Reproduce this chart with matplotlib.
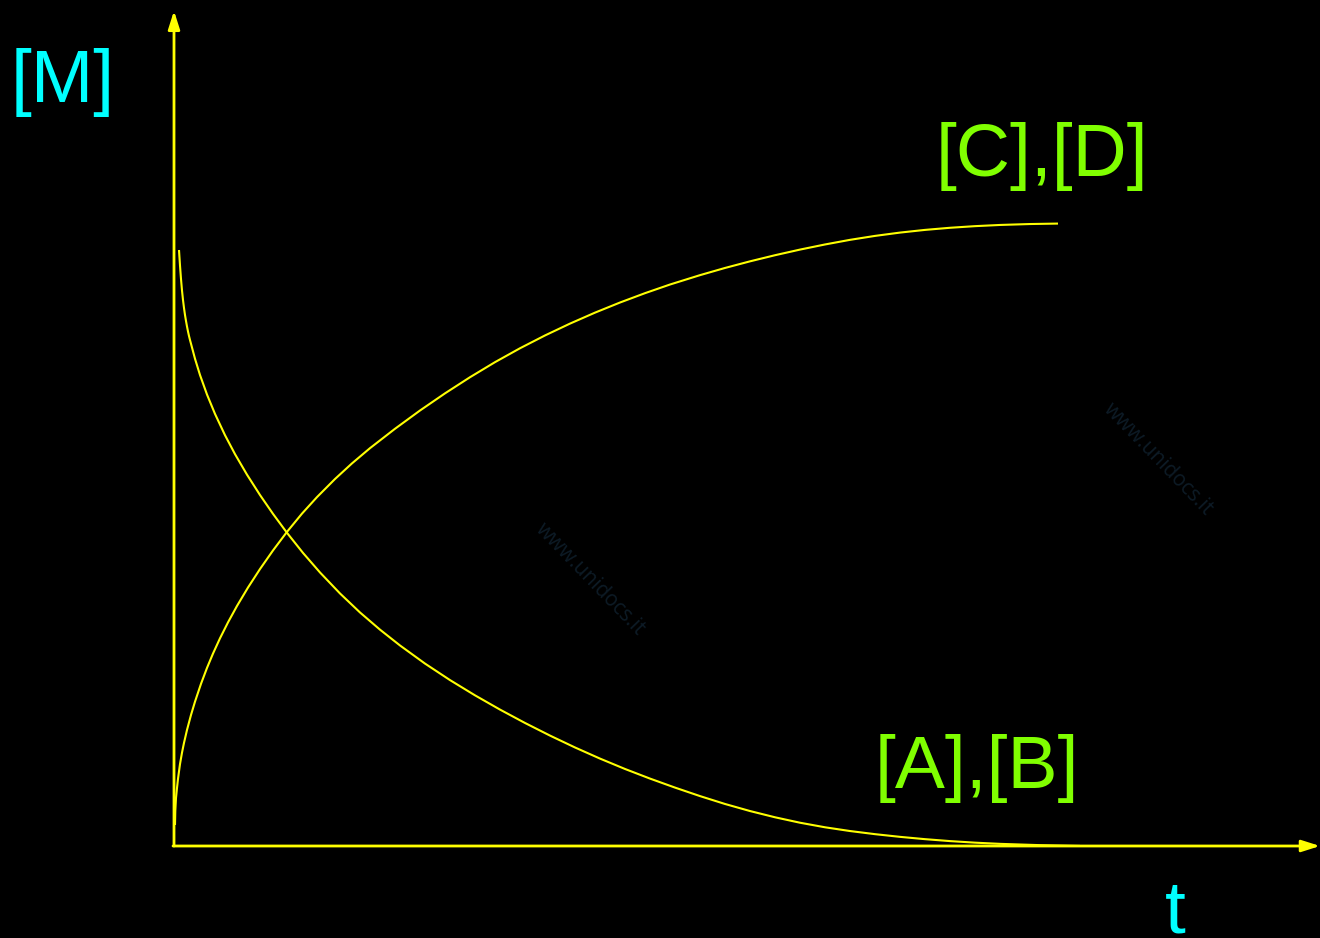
import numpy as np
import matplotlib
matplotlib.use("Agg")
import matplotlib.pyplot as plt

# reactants [A],[B]: time vs concentration
t_reag = [0.04, 0.05, 0.06, 0.07, 0.08, 0.09, 0.10, 0.11, 0.12, 0.13, 0.14, 0.15,
          0.20, 0.25, 0.32, 0.40, 0.50, 0.60, 0.72, 0.85, 0.98, 1.12, 1.28, 1.45,
          1.65, 1.85, 2.05, 2.25, 2.50, 2.75, 3.00, 3.25, 3.50, 3.75, 4.00, 4.25,
          4.50, 4.75, 5.00, 5.25, 5.50, 5.75, 6.00, 6.25, 6.50, 6.75, 7.00, 7.25,
          7.50, 7.75, 8.00, 8.25, 8.65, 9.05]
c_reag = [0.99333, 0.96750, 0.94500, 0.92583, 0.91000, 0.89667, 0.88500, 0.87500,
          0.86583, 0.85750, 0.85000, 0.84333, 0.81208, 0.78500, 0.75245, 0.72018,
          0.68468, 0.65310, 0.61890, 0.58498, 0.55357, 0.52195, 0.48848, 0.45590,
          0.42090, 0.38923, 0.36057, 0.33423, 0.30402, 0.27652, 0.25110, 0.22735,
          0.20505, 0.18402, 0.16422, 0.14568, 0.12838, 0.11235, 0.09735, 0.08318,
          0.07005, 0.05828, 0.04787, 0.03880, 0.03120, 0.02495, 0.01973, 0.01525,
          0.01140, 0.00817, 0.00557, 0.00358, 0.00142, 0.00008]

# products [C],[D]
t_prod = [0.00, 0.003, 0.01, 0.02, 0.03, 0.05, 0.07, 0.09, 0.12, 0.16, 0.20, 0.26,
          0.32, 0.38, 0.45, 0.53, 0.62, 0.73, 0.85, 0.98, 1.12, 1.27, 1.42, 1.60,
          1.77, 1.95, 2.20, 2.45, 2.70, 2.95, 3.20, 3.45, 3.70, 3.95, 4.20, 4.45,
          4.70, 4.95, 5.25, 5.50, 5.75, 6.00, 6.25, 6.50, 6.75, 7.00, 7.25, 7.50,
          7.75, 8.00, 8.25, 8.55, 8.83]
c_prod = [0.03500, 0.05833, 0.08000, 0.09667, 0.11208, 0.13658, 0.15558, 0.17192,
          0.19342, 0.21842, 0.24058, 0.27033, 0.29683, 0.32073, 0.34617, 0.37270,
          0.40008, 0.43080, 0.46160, 0.49258, 0.52362, 0.55400, 0.58150, 0.61167,
          0.63772, 0.66307, 0.69537, 0.72583, 0.75440, 0.78130, 0.80640, 0.82956,
          0.85091, 0.87066, 0.88893, 0.90580, 0.92138, 0.93580, 0.95141, 0.96340,
          0.97443, 0.98463, 0.99401, 1.00255, 1.01026, 1.01683, 1.02235, 1.02683,
          1.03037, 1.03308, 1.03507, 1.03662, 1.03737]

# axes extents (arrow tips)
t_max = 11.45
c_max = 1.387

yellow = "#ffff00"
green = "#80ff00"
cyan = "#00ffff"
plt.rcParams['font.family'] = ['Liberation Sans', 'DejaVu Sans']

fig = plt.figure(figsize=(13.2, 9.38), dpi=100, facecolor="black")
ax = fig.add_axes([0, 0, 1, 1])
ax.set_facecolor("black")
ax.set_xlim(-1.75, 11.45)
ax.set_ylim(-92 / 600, 846 / 600)
ax.axis("off")

# faint watermark
for wx, wy in [(0.447, 0.382), (0.877, 0.510)]:
    ax.text(wx, wy, "www.unidocs.it", transform=fig.transFigure, rotation=-46,
            fontsize=15, color="#0d1b26", ha="center", va="center",
            family=["Open Sans", "DejaVu Sans"])

# axes with arrows
arrow = dict(arrowstyle="-|>,head_length=1.1,head_width=0.35", color=yellow,
             lw=2, shrinkA=0, shrinkB=0)
ax.annotate("", xy=(-0.01, c_max + 0.005), xytext=(-0.01, 0), arrowprops=arrow)
ax.annotate("", xy=(t_max, 0), xytext=(-0.02, 0), arrowprops=arrow)

# curves
ax.plot(t_reag, c_reag, color=yellow, lw=1.5, solid_capstyle="butt", solid_joinstyle="round")
ax.plot(t_prod, c_prod, color=yellow, lw=1.5, solid_capstyle="butt", solid_joinstyle="round")

# labels
ax.text(-1.12, 1.272, "[M]", color=cyan, fontsize=54, ha="center", va="center")
ax.text(10.0, -0.112, "t", color=cyan, fontsize=54, ha="center", va="center")
ax.text(8.67, 1.149, "[C],[D]", color=green, fontsize=54, ha="center", va="center")
ax.text(8.02, 0.129, "[A],[B]", color=green, fontsize=54, ha="center", va="center")

fig.savefig("out.png", dpi=100, facecolor="black")
